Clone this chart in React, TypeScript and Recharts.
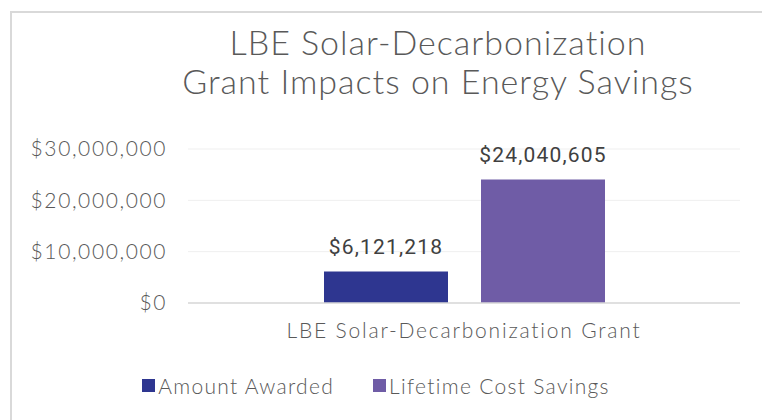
import { BarChart, Bar, XAxis, YAxis, CartesianGrid, Legend, LabelList } from 'recharts'

const categories = ['LBE Solar-Decarbonization Grant']
const amountAwarded = [6121218]
const lifetimeSavings = [24040605]
const yTicks = [0, 10000000, 20000000, 30000000]

const SERIES = [
  { key: 'awarded', name: 'Amount Awarded', color: '#2e3690' },
  { key: 'savings', name: 'Lifetime Cost Savings', color: '#6f5ca6' },
]

const data = categories.map((c, i) => ({
  name: c,
  awarded: amountAwarded[i],
  savings: lifetimeSavings[i],
}))

const FONT = 'Lato, "Noto Sans", sans-serif'
const GRAY = '#595959'

const money = (v: number) => '$' + v.toLocaleString('en-US')

function LegendContent() {
  return (
    <div
      style={{
        display: 'flex',
        justifyContent: 'center',
        alignItems: 'center',
        gap: 39,
        height: 30,
        fontFamily: FONT,
        fontWeight: 300,
        fontSize: 21,
        letterSpacing: 1.3,
        color: GRAY,
        position: 'relative',
        left: 6,
      }}
    >
      {SERIES.map((s) => (
        <span key={s.key} style={{ display: 'flex', alignItems: 'center' }}>
          <span style={{ width: 13, height: 13, backgroundColor: s.color, marginRight: 3 }} />
          {s.name}
        </span>
      ))}
    </div>
  )
}

export default function App() {
  return (
    <div style={{ position: 'absolute', left: 0, top: 0, width: 762, height: 420, background: '#fff', overflow: 'hidden' }}>
      <div
        style={{
          position: 'absolute',
          left: 10,
          top: 11,
          width: 800,
          height: 450,
          borderTop: '2px solid #d9d9d9',
          borderLeft: '2px solid #d9d9d9',
        }}
      />
      <div
        style={{
          position: 'absolute',
          left: 138,
          top: 22,
          width: 600,
          textAlign: 'center',
          fontFamily: FONT,
          fontWeight: 300,
          fontSize: 34,
          letterSpacing: 1,
          lineHeight: '39px',
          color: GRAY,
        }}
      >
        LBE Solar-Decarbonization
        <br />
        Grant Impacts on Energy Savings
      </div>
      <div style={{ position: 'absolute', left: 0, top: 0 }}>
        <BarChart
          width={762}
          height={420}
          data={data}
          margin={{ top: 149, right: 22, left: 0, bottom: 20 }}
          barSize={124}
          barGap={33}
        >
          <CartesianGrid vertical={false} stroke="#efefef" />
          <XAxis
            dataKey="name"
            height={67}
            tickLine={false}
            tickSize={0}
            tickMargin={20}
            axisLine={{ stroke: '#d9d9d9', strokeWidth: 1.5 }}
            tick={{ fontFamily: FONT, fontWeight: 300, fontSize: 21, letterSpacing: 1.8, fill: GRAY }}
          />
          <YAxis
            width={188}
            domain={[0, 30000000]}
            ticks={yTicks}
            tickFormatter={money}
            axisLine={false}
            tickLine={false}
            tickSize={0}
            tickMargin={21}
            tick={{ fontFamily: FONT, fontWeight: 300, fontSize: 21, letterSpacing: 1.6, fill: GRAY }}
          />
          <Legend verticalAlign="bottom" content={<LegendContent />} wrapperStyle={{ height: 30 }} />
          {SERIES.map((s) => (
            <Bar key={s.key} dataKey={s.key} name={s.name} fill={s.color} isAnimationActive={false}>
              <LabelList
                dataKey={s.key}
                position="top"
                offset={18}
                formatter={(v: number) => money(v)}
                style={{ fontFamily: 'Roboto, sans-serif', fontSize: 21, letterSpacing: 1.2, fill: '#404040' }}
              />
            </Bar>
          ))}
        </BarChart>
      </div>
    </div>
  )
}
